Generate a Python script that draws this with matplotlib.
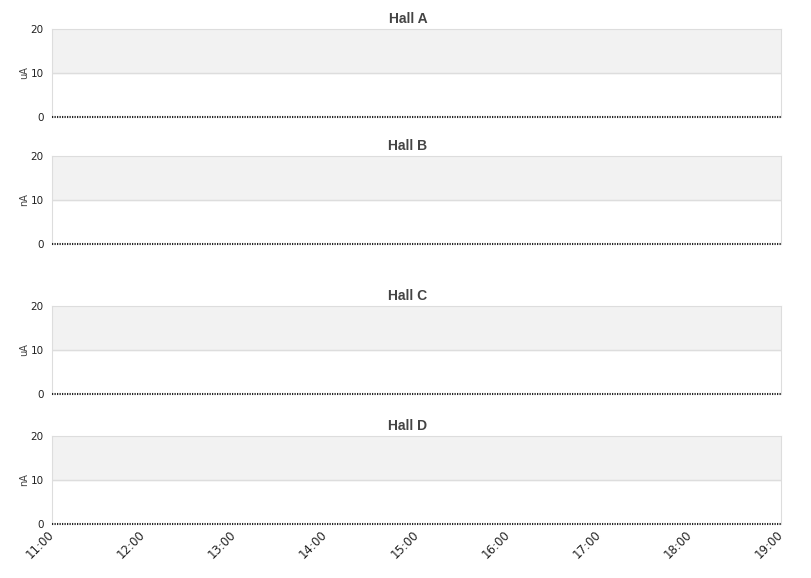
import matplotlib.pyplot as plt
import matplotlib.dates as mdates
from datetime import datetime

# Données
halls = ["Hall A", "Hall B", "Hall C", "Hall D"]
units = ["uA", "nA", "uA", "nA"]
hours = [11, 12, 13, 14, 15, 16, 17, 18, 19]
times = [datetime(2024, 1, 1, h, 0) for h in hours]
courant = [0, 0, 0, 0, 0, 0, 0, 0, 0]
y_ticks = [0, 10, 20]

# Positions des panneaux (en pixels, depuis le haut)
panels_px = [(29, 117), (156, 244), (306, 394), (436, 524)]
W, H = 811, 578

fig = plt.figure(figsize=(W / 100, H / 100), dpi=100)

for i, (hall, unit) in enumerate(zip(halls, units)):
    top, bottom = panels_px[i]
    ax = fig.add_axes([52 / W, 1 - bottom / H, (781 - 52) / W, (bottom - top) / H])

    ax.axhspan(10, 20, color="#f2f2f2", zorder=0)
    ax.axhline(10, color="#dddddd", linewidth=1, zorder=1)
    ax.plot(times, courant, color="#222222", linestyle=(0, (0.6, 0.6)), linewidth=1.5,
            clip_on=False, zorder=3)

    ax.set_xlim(times[0], times[-1])
    ax.set_ylim(0, 20)
    ax.set_yticks(y_ticks)
    ax.tick_params(axis="y", length=0, labelsize=7.5, colors="#222222", pad=6)
    ax.set_ylabel(unit, fontsize=7, color="#444444", labelpad=1)

    # titre centré sur la figure (pas sur l'axe)
    fig.text(408 / W, 1 - (top - 10) / H, hall, ha="center", va="center",
             fontsize=10, fontweight="bold", color="#444444",
             family=["Liberation Sans", "DejaVu Sans"])

    for side in ["top", "left", "right"]:
        ax.spines[side].set_color("#dddddd")
    ax.spines["bottom"].set_visible(False)

    ax.xaxis.set_major_locator(mdates.HourLocator())
    ax.xaxis.set_major_formatter(mdates.DateFormatter("%H:%M"))
    ax.tick_params(axis="x", length=0, pad=6)
    if i < len(halls) - 1:
        ax.set_xticklabels([])
    else:
        for lbl in ax.get_xticklabels():
            lbl.set_rotation(45)
            lbl.set_ha("right")
            lbl.set_va("center")
            lbl.set_rotation_mode("anchor")
            lbl.set_fontsize(8.5)
            lbl.set_color("#222222")

fig.savefig("out.png", dpi=100)
